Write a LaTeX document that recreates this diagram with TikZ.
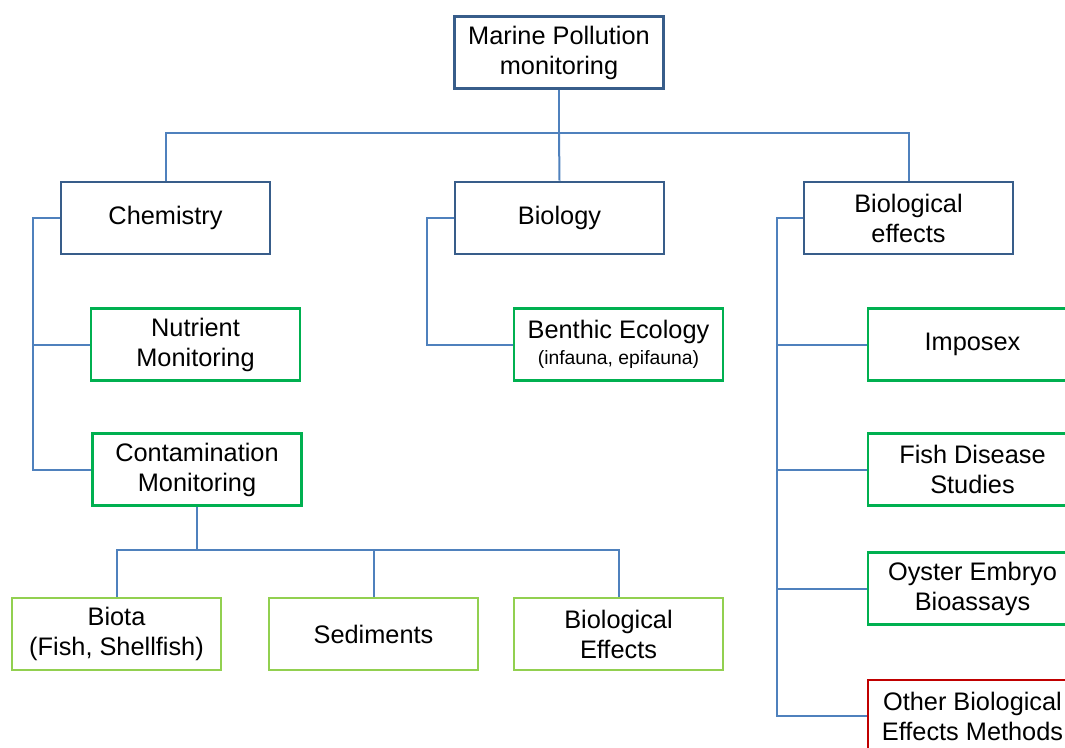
\documentclass[tikz,border=0pt]{standalone}
\usepackage{fontspec}
\setmainfont{Liberation Sans}
\definecolor{topblue}{HTML}{385D8A}
\definecolor{linkblue}{HTML}{4F81BD}
\definecolor{midgreen}{HTML}{00B050}
\definecolor{lightgreen}{HTML}{92D050}
\definecolor{darkred}{HTML}{C00000}
\begin{document}
\begin{tikzpicture}[x=0.75pt,y=-0.75pt,
  box/.style={draw,line width=2.2pt,fill=white,minimum width=156.75pt,minimum height=54pt,
    inner sep=0pt,align=center,font=\fontsize{19}{22.5}\selectfont},
  headbox/.style={box,draw=topblue},
  subbox/.style={box,draw=midgreen},
  leafbox/.style={box,draw=lightgreen},
  redbox/.style={box,draw=darkred},
  link/.style={draw=linkblue,line width=1.5pt}]
\clip (0,0) rectangle (1065,747);
\useasboundingbox (0,0) rectangle (1065,747);

% top level
\node[headbox] (top) at (559,52.5) {Marine Pollution\\monitoring};
\node[headbox] (chem) at (165.5,218) {Chemistry};
\node[headbox] (bio) at (559.5,218) {Biology};
\node[headbox] (bioeff) at (908.5,218) {Biological\\effects};

% chemistry branch
\node[subbox] (nutr) at (195.5,344.5) {Nutrient\\Monitoring};
\node[subbox] (cont) at (197,469.5) {Contamination\\Monitoring};
\node[leafbox] (biota) at (116.5,634) {Biota\\(Fish, Shellfish)};
\node[leafbox] (sed) at (373.5,634) {Sediments};
\node[leafbox] (beff) at (618.5,634) {Biological\\Effects};

% biology branch
\node[subbox] (benth) at (618.5,344.5) {Benthic Ecology\\[-3pt]{\fontsize{14.5}{16}\selectfont(infauna, epifauna)}};

% biological effects branch
\node[subbox] (impo) at (972.5,344.5) {Imposex};
\node[subbox] (fish) at (972.5,469.5) {Fish Disease\\Studies};
\node[subbox] (oyst) at (972.5,588.5) {Oyster Embryo\\Bioassays};
\node[redbox] (other) at (972.5,716) {Other Biological\\Effects Methods};

% connectors: top level
\coordinate (hub) at (559,133);
\draw[link] (top.south) -- (hub);
\draw[link] (chem.north) |- (hub) -| (bioeff.north);
\draw[link] (hub) -- (bio.north);

% chemistry spine
\coordinate (cs) at (33,218);
\draw[link] (chem.west) -- (cs) |- (cont.west);
\draw[link] (cs |- nutr.west) -- (nutr.west);

% contamination fan-out
\coordinate (cf) at (197,550);
\draw[link] (cont.south) -- (cf);
\draw[link] (biota.north) |- (cf) -| (beff.north);
\draw[link] (sed.north) -- (sed.north |- cf);

% biology spine
\draw[link] (bio.west) -- (427,218) |- (benth.west);

% biological effects spine
\coordinate (es) at (777,218);
\draw[link] (bioeff.west) -- (es) |- (other.west);
\draw[link] (es |- impo.west) -- (impo.west);
\draw[link] (es |- fish.west) -- (fish.west);
\draw[link] (es |- oyst.west) -- (oyst.west);
\end{tikzpicture}
\end{document}
